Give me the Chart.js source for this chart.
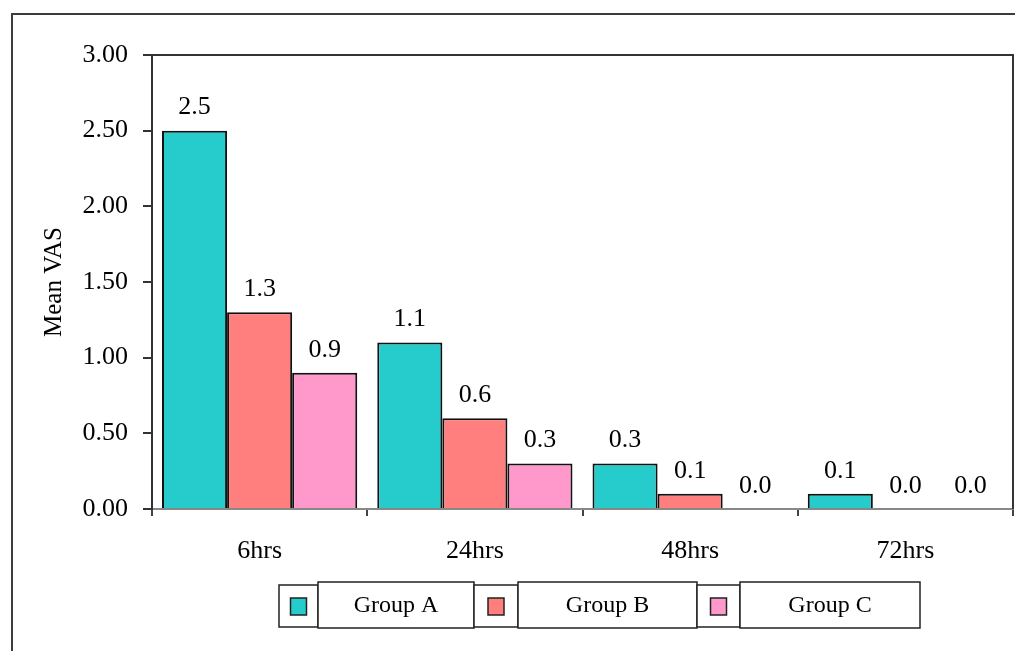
<!doctype html>
<html lang="en">
  <head>
    <meta charset="utf-8">
    <title>Mean VAS</title>
    <style>
      html, body { margin: 0; padding: 0; background: #fff; }
    </style>
  </head>
  <body>
    <canvas id="chart" width="1015" height="651"></canvas>
  </body>
</html>
<script src="https://cdn.jsdelivr.net/npm/chart.js"></script>
<script>
const categories = ['6hrs', '24hrs', '48hrs', '72hrs'];
const groupA = [2.5, 1.1, 0.3, 0.1];
const groupB = [1.3, 0.6, 0.1, 0.0];
const groupC = [0.9, 0.3, 0.0, 0.0];
const seriesNames = ['Group A', 'Group B', 'Group C'];
const yTicks = [0, 0.5, 1, 1.5, 2, 2.5, 3];

const FONT = 'Liberation Serif';
const colors = ['#26CCCC', '#FF7F7F', '#FF99CC'];

// outer frame + top/right border of plot area
const frame = {
    id: 'frame',
    beforeDraw(chart) {
        const { ctx } = chart;
        ctx.save();
        ctx.fillStyle = '#fff';
        ctx.fillRect(0, 0, chart.width, chart.height);
        ctx.strokeStyle = '#3c3c3c';
        ctx.lineWidth = 2;
        ctx.beginPath();
        ctx.moveTo(12, 660);
        ctx.lineTo(12, 14);
        ctx.lineTo(1030, 14);
        ctx.stroke();
        ctx.restore();
    },
    afterDraw(chart) {
        const { ctx, chartArea: { left, right, top, bottom } } = chart;
        ctx.save();
        ctx.strokeStyle = '#333';
        ctx.lineWidth = 2;
        ctx.beginPath();
        ctx.moveTo(left, top);
        ctx.lineTo(right, top);
        ctx.lineTo(right, bottom);
        ctx.stroke();
        ctx.restore();
    }
};

// value labels above each bar
const valueLabels = {
    id: 'valueLabels',
    afterDatasetsDraw(chart) {
        const { ctx } = chart;
        ctx.save();
        ctx.font = '26px "' + FONT + '"';
        ctx.fillStyle = '#000';
        ctx.textAlign = 'center';
        ctx.textBaseline = 'middle';
        chart.data.datasets.forEach((ds, i) => {
            chart.getDatasetMeta(i).data.forEach((bar, j) => {
                ctx.fillText(ds.data[j].toFixed(1), bar.x, bar.y - 23);
            });
        });
        ctx.restore();
    }
};

// boxed legend under the chart
const boxLegend = {
    id: 'boxLegend',
    afterDraw(chart) {
        const { ctx } = chart;
        const slots = [
            { sx: 279, tx: 318, tr: 474 },
            { sx: 474, tx: 518, tr: 697 },
            { sx: 697, tx: 740, tr: 920 }
        ];
        ctx.save();
        ctx.strokeStyle = '#222';
        ctx.lineWidth = 1.5;
        chart.data.datasets.forEach((ds, i) => {
            const s = slots[i];
            ctx.fillStyle = '#fff';
            ctx.fillRect(s.sx, 585, s.tx - s.sx, 42);
            ctx.strokeRect(s.sx, 585, s.tx - s.sx, 42);
            ctx.fillRect(s.tx, 582, s.tr - s.tx, 46);
            ctx.strokeRect(s.tx, 582, s.tr - s.tx, 46);
            const cx = (s.sx + s.tx) / 2;
            ctx.fillStyle = ds.backgroundColor;
            ctx.fillRect(cx - 8, 598, 16, 17);
            ctx.strokeRect(cx - 8, 598, 16, 17);
            ctx.fillStyle = '#000';
            ctx.font = '24px "' + FONT + '"';
            ctx.textAlign = 'center';
            ctx.textBaseline = 'middle';
            ctx.fillText(ds.label, (s.tx + s.tr) / 2, 606);
        });
        ctx.restore();
    }
};

new Chart(document.querySelector('#chart'), {
    type: 'bar',
    data: {
        labels: categories,
        datasets: [groupA, groupB, groupC].map((d, i) => ({
            label: seriesNames[i],
            data: d,
            backgroundColor: colors[i],
            borderColor: '#111',
            borderWidth: 2,
            borderSkipped: 'bottom',
            barPercentage: 1,
            categoryPercentage: 0.907
        }))
    },
    options: {
        responsive: false,
        animation: false,
        events: [],
        layout: { padding: { left: 0, top: 55, right: 2, bottom: 0 } },
        plugins: {
            legend: { display: false },
            tooltip: { enabled: false }
        },
        scales: {
            x: {
                afterFit(scale) { scale.height = 142; },
                grid: { offset: true, drawOnChartArea: false, drawTicks: true, tickLength: 7, color: '#444', lineWidth: 2 },
                border: { display: true, color: '#888', width: 2 },
                ticks: { color: '#000', padding: 20, font: { family: FONT, size: 26 } }
            },
            y: {
                min: 0,
                max: 3,
                afterFit(scale) { scale.width = 152; },
                afterBuildTicks(scale) { scale.ticks = yTicks.map(v => ({ value: v })); },
                grid: { drawOnChartArea: false, drawTicks: true, tickLength: 9, color: '#333', lineWidth: 2 },
                border: { display: true, color: '#333', width: 2 },
                ticks: {
                    color: '#000',
                    padding: 15,
                    font: { family: FONT, size: 26 },
                    callback: v => Number(v).toFixed(2)
                },
                title: {
                    display: true,
                    text: 'Mean VAS',
                    color: '#000',
                    font: { family: FONT, size: 25 },
                    padding: { top: 39, bottom: 0 }
                }
            }
        }
    },
    plugins: [frame, valueLabels, boxLegend]
});
</script>
